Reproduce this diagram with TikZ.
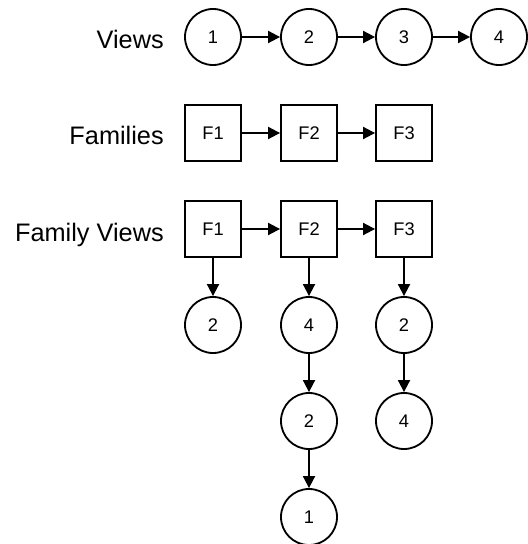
\documentclass[tikz,border=0pt]{standalone}
\usepackage{fontspec}
\setmainfont{Liberation Sans}
\usetikzlibrary{arrows.meta}

\begin{document}
\begin{tikzpicture}[x=0.025cm,y=-0.025cm,
  view/.style={circle,draw,line width=1.3pt,minimum size=1.4cm,inner sep=0pt,font=\fontsize{13}{15}\selectfont},
  family/.style={rectangle,draw,line width=1.3pt,minimum size=1.4cm,inner sep=0pt,font=\fontsize{13}{15}\selectfont},
  rowlabel/.style={anchor=base east,inner sep=0pt,font=\fontsize{18}{20}\selectfont},
  link/.style={line width=1.3pt,-{Triangle[length=0.3cm,width=0.3cm]}}]
\useasboundingbox (0,0) rectangle (527,544);

% row labels
\node[rowlabel] (lviews) at (164,49) {Views};
\node[rowlabel] (lfam) at (164,145) {Families};
\node[rowlabel] (lfamviews) at (164,241) {Family Views};

% views
\node[view] (V1) at (213,37) {1};
\node[view] (V2) at (309,37) {2};
\node[view] (V3) at (404,37) {3};
\node[view] (V4) at (499,37) {4};

\draw[link] (V1) -- (V2);
\draw[link] (V2) -- (V3);
\draw[link] (V3) -- (V4);

% families
\node[family] (F1) at (213,133) {F1};
\node[family] (F2) at (309,133) {F2};
\node[family] (F3) at (404,133) {F3};

\draw[link] (F1) -- (F2);
\draw[link] (F2) -- (F3);

% family views
\node[family] (FV1) at (213,229) {F1};
\node[family] (FV2) at (309,229) {F2};
\node[family] (FV3) at (404,229) {F3};

\draw[link] (FV1) -- (FV2);
\draw[link] (FV2) -- (FV3);

\node[view] (A1) at (213,325) {2};

\node[view] (B1) at (309,325) {4};
\node[view] (B2) at (309,421) {2};
\node[view] (B3) at (309,517) {1};

\node[view] (C1) at (404,325) {2};
\node[view] (C2) at (404,421) {4};

\draw[link] (FV1) -- (A1);
\draw[link] (FV2) -- (B1);
\draw[link] (B1) -- (B2);
\draw[link] (B2) -- (B3);
\draw[link] (FV3) -- (C1);
\draw[link] (C1) -- (C2);
%\draw[link] (A1) -- (B1);

\end{tikzpicture}
\end{document}
